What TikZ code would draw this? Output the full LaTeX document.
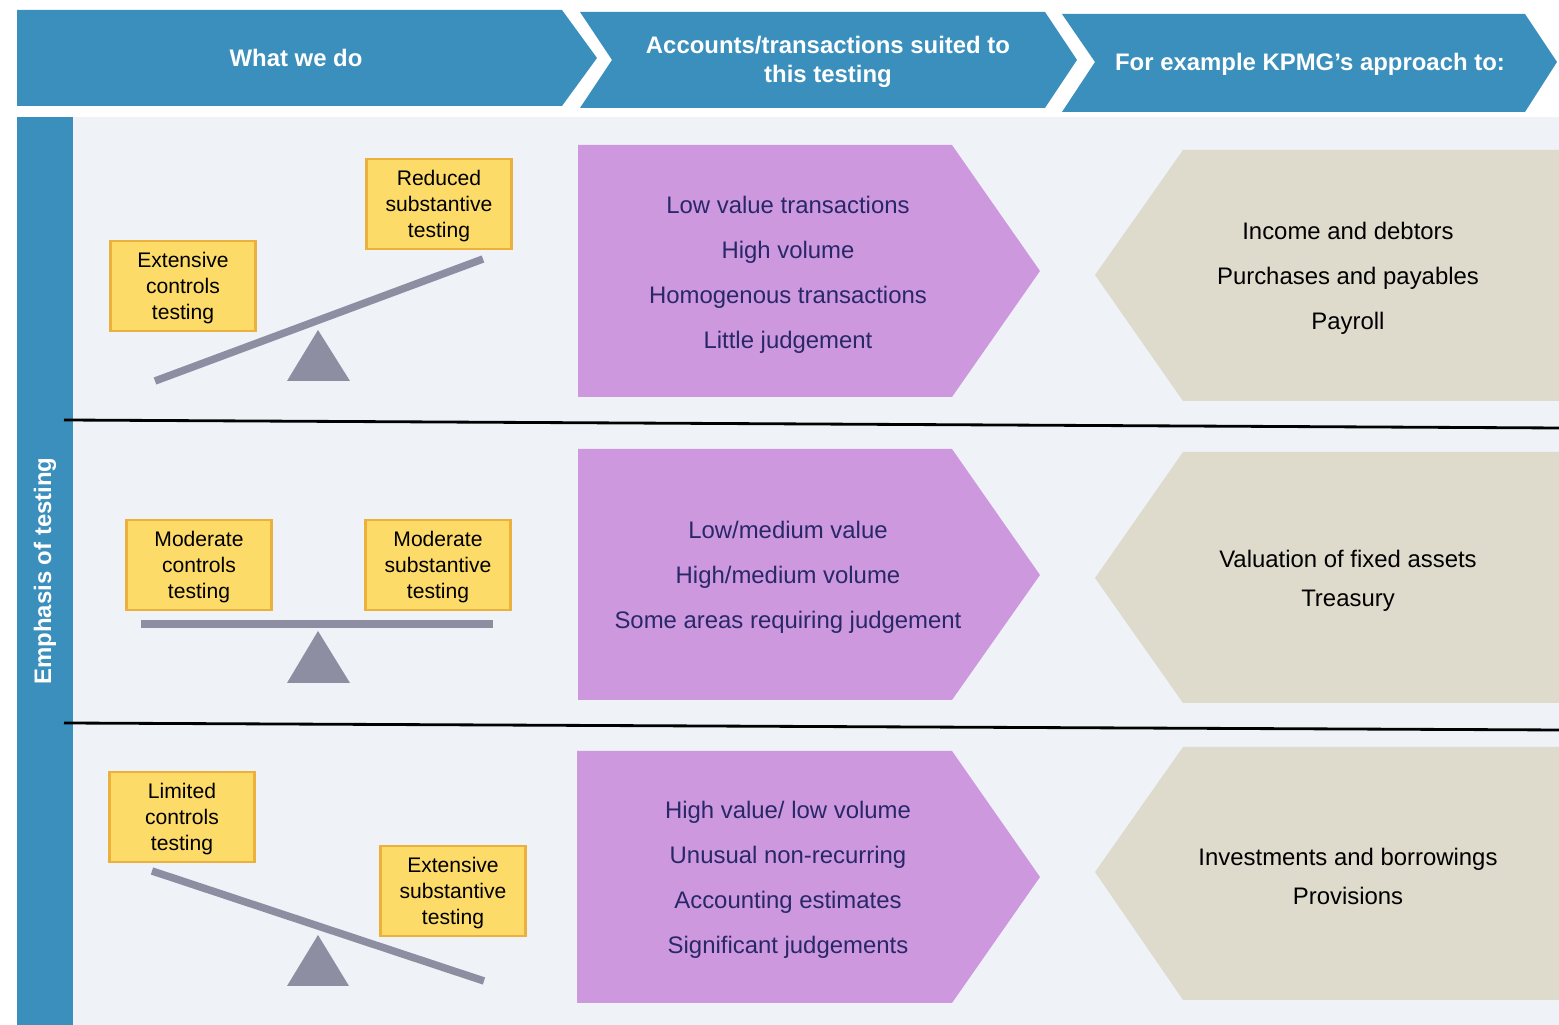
\documentclass[tikz,border=0pt]{standalone}
\usepackage{fontspec}
\setmainfont{Liberation Sans}
\usepackage{tikz}
\definecolor{hdblue}{RGB}{58,143,188}
\definecolor{bgblue}{RGB}{239,243,248}
\definecolor{boxyel}{RGB}{252,219,104}
\definecolor{boxedge}{RGB}{236,176,60}
\definecolor{plum}{RGB}{205,152,222}
\definecolor{beige}{RGB}{222,218,204}
\definecolor{beamgray}{RGB}{142,142,162}
\definecolor{navy}{RGB}{40,40,105}

\begin{document}
\begin{tikzpicture}[x=0.01cm, y=-0.01cm, % 1単位=1px、y軸は下向き
  hd/.style={text=white, font=\bfseries\fontsize{6.8}{8.3}\selectfont, align=center},
  ybox/.style={draw=boxedge, fill=boxyel, line width=0.6pt, minimum width=1.45cm,
    minimum height=0.9cm, inner sep=0pt, text depth=0pt, align=center, font=\fontsize{6}{7.4}\selectfont},
  plist/.style={text=navy, align=center, font=\fontsize{6.8}{12.8}\selectfont},
  blist/.style={text=black, align=center, font=\fontsize{6.8}{11.1}\selectfont},
  beam/.style={beamgray, line width=0.075cm}]
    \useasboundingbox (0,0) rectangle (1559,1025); % 画像の大きさ

    % 見出しの矢羽
    \fill[hdblue] (17,10)--(562,10)--(597,58)--(562,106)--(17,106)--cycle;
    \node[hd] (hwhat) at (296,58) {What we do};
    \fill[hdblue] (580,12)--(1045,12)--(1077,60)--(1045,108)--(580,108)--(612,60)--cycle;
    \node[hd] (hacc) at (828,62) {Accounts/transactions suited to\\this testing};
    \fill[hdblue] (1062,14)--(1525,14)--(1557,62)--(1525,112)--(1062,112)--(1095,62)--cycle;
    \node[hd] (hkpmg) at (1310,64) {For example KPMG’s approach to:};

    \fill[bgblue] (73,117) rectangle (1559,1025); % 背景
    \fill[hdblue] (17,117) rectangle (73,1025); % 縦の帯
    \node[hd, rotate=90] (hemph) at (45,571) {Emphasis of testing};

    \draw[line width=0.8pt] (64,420)--(1559,428); % 区切り線
    \draw[line width=0.8pt] (64,723)--(1559,730);

    % 1段目
    \draw[beam] (155,381)--(483,259); % シーソー
    \fill[beamgray] (318,330)--(350,381)--(287,381)--cycle;
    \node[ybox] (ctrl1) at (183,286) {Extensive\\controls\\testing};
    \node[ybox] (sub1) at (439,204) {Reduced\\substantive\\testing};
    \fill[plum] (578,145)--(952,145)--(1040,271)--(952,397)--(578,397)--cycle;
    \node[plist] (acc1) at (788,275) {Low value transactions\\High volume\\Homogenous transactions\\Little judgement};
    \fill[beige] (1095,275)--(1183,150)--(1559,150)--(1559,401)--(1183,401)--cycle;
    \node[blist, font=\fontsize{6.8}{12.8}\selectfont] (ex1) at (1348,278) {Income and debtors\\Purchases and payables\\Payroll};

    % 2段目
    \draw[beam] (141,624)--(493,624);
    \fill[beamgray] (318,631)--(350,683)--(287,683)--cycle;
    \node[ybox] (ctrl2) at (199,565) {Moderate\\controls\\testing};
    \node[ybox] (sub2) at (438,565) {Moderate\\substantive\\testing};
    \fill[plum] (578,449)--(952,449)--(1040,575)--(952,700)--(578,700)--cycle;
    \node[plist] (acc2) at (788,577) {Low/medium value\\High/medium volume\\Some areas requiring judgement};
    \fill[beige] (1095,578)--(1183,452)--(1559,452)--(1559,703)--(1183,703)--cycle;
    \node[blist] (ex2) at (1348,581) {Valuation of fixed assets\\Treasury};

    % 3段目
    \draw[beam] (152,871)--(484,981);
    \fill[beamgray] (318,935)--(349,986)--(287,986)--cycle;
    \node[ybox] (ctrl3) at (182,817) {Limited\\controls\\testing};
    \node[ybox] (sub3) at (453,891) {Extensive\\substantive\\testing};
    \fill[plum] (577,751)--(952,751)--(1040,877)--(952,1003)--(577,1003)--cycle;
    \node[plist] (acc3) at (788,880) {High value/ low volume\\Unusual non-recurring\\Accounting estimates\\Significant judgements};
    \fill[beige] (1095,872)--(1183,747)--(1559,747)--(1559,1000)--(1183,1000)--cycle;
    \node[blist] (ex3) at (1348,876) {Investments and borrowings\\Provisions};
  \end{tikzpicture}
\end{document}
